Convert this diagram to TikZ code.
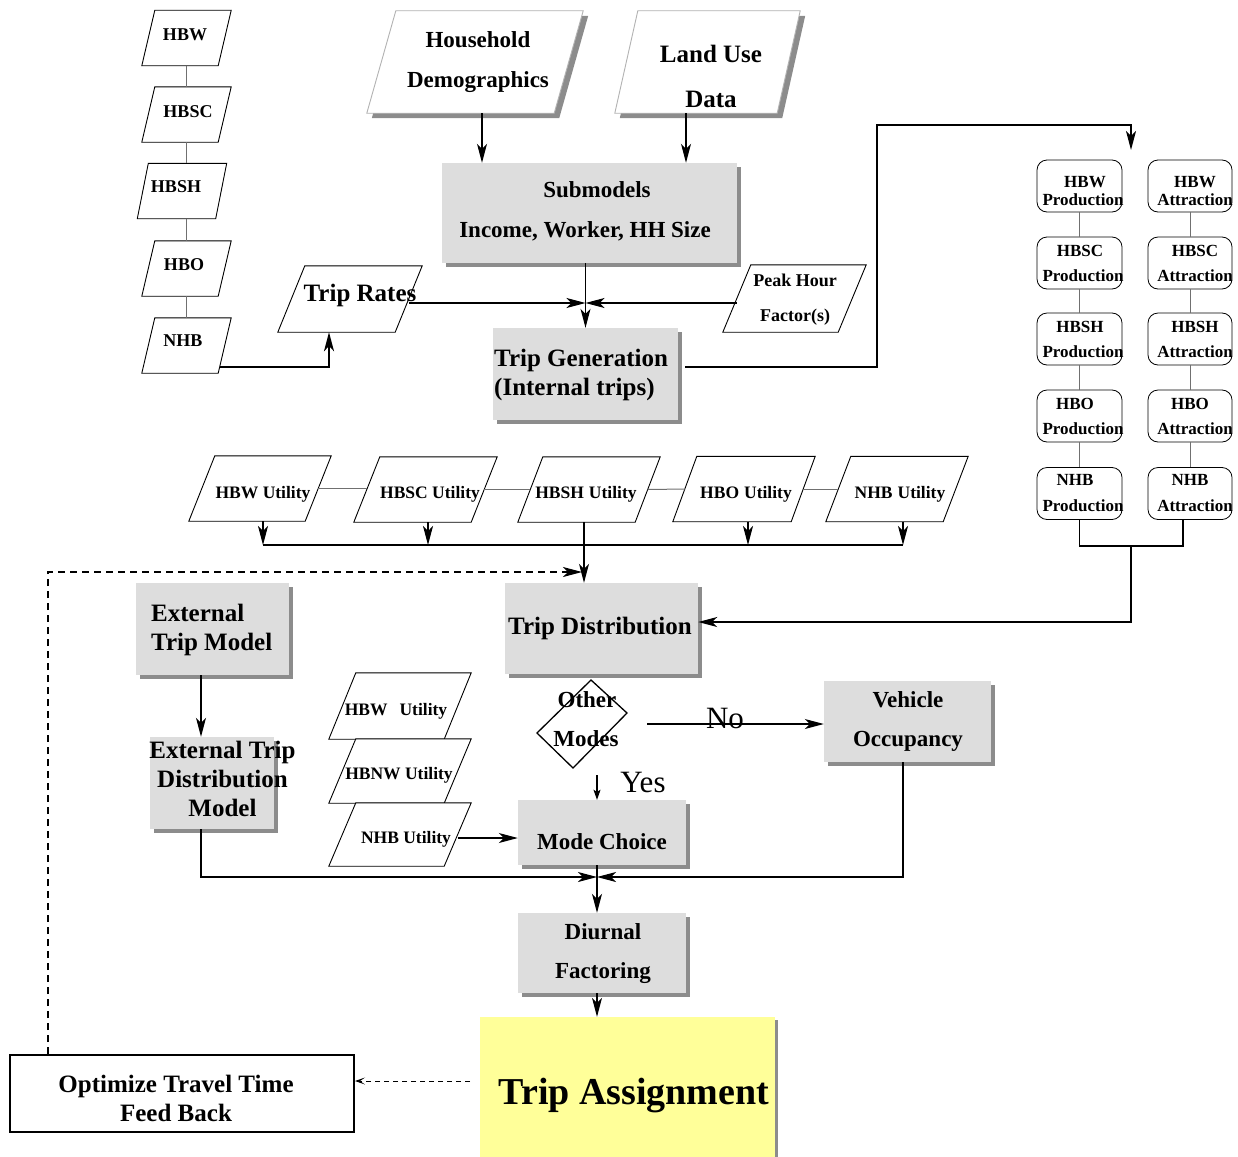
\documentclass[tikz,border=0pt]{standalone}
\usepackage{fontspec}
\setmainfont{Liberation Serif}
\usetikzlibrary{arrows.meta,shapes.geometric,shadows}
\definecolor{boxgray}{HTML}{DDDDDD}
\definecolor{shgray}{HTML}{8C8C8C}
\definecolor{asgyel}{HTML}{FFFF99}
\definecolor{lnkgray}{HTML}{707070}
\newcommand\fs[1]{\fontsize{#1}{#1}\selectfont}
% parallelogram round an empty node: options, node, half slant, dx, dy
\newcommand\pgram[5][draw]{\path[#1] ([xshift={#3+#4},yshift={#5}]#2.north west) -- ([xshift={#3+#4},yshift={#5}]#2.north east) -- ([xshift={#4-#3},yshift={#5}]#2.south east) -- ([xshift={#4-#3},yshift={#5}]#2.south west) -- cycle;}
\begin{document}
\begin{tikzpicture}[x=1pt,y=-1pt,
  tx/.style={font=\bfseries\fs{#1},inner sep=0pt,text height={0.66*#1pt},text depth=0pt},
  txn/.style={font=\fs{#1},inner sep=0pt,text height={0.66*#1pt},text depth=0pt},
  shp/.style={rectangle,inner sep=0pt,draw=none},
  gbox/.style={shp,fill=boxgray,drop shadow={shadow xshift=4pt,shadow yshift=-4pt,fill=shgray,opacity=1}},
  rbox/.style={shp,draw,rounded corners=10pt,line width=0.8pt,minimum width=85pt,minimum height=52pt},
  arr/.style={-{Stealth[length=19pt,width=10pt,inset=5pt]}},
  conn/.style={line width=1.1pt},
  lnk/.style={draw=lnkgray,line width=1pt},
  dsh/.style={line width=1.1pt,dash pattern=on 7pt off 5pt},
  pg/.style={draw,line width=0.9pt,fill=white}
]
\useasboundingbox (0,0) rectangle (1238,1156);

% ---------- gray boxes ----------
\node[gbox,minimum width=295pt,minimum height=100pt] (sub) at (589.5,213) {};
\node[gbox,minimum width=185pt,minimum height=92pt] (gen) at (585.5,374) {};
\node[gbox,minimum width=193pt,minimum height=91pt] (dist) at (601.5,628.5) {};
\node[gbox,minimum width=153pt,minimum height=92pt] (ext) at (212.5,629) {};
\node[gbox,minimum width=124pt,minimum height=92pt] (extd) at (212,783) {};
\node[gbox,minimum width=167pt,minimum height=81pt] (veh) at (907.5,721.5) {};
\node[gbox,minimum width=168pt,minimum height=65pt] (mode) at (602,832.5) {};
\node[gbox,minimum width=168pt,minimum height=80pt] (diurnal) at (602,953) {};
\node[shp,fill=asgyel,drop shadow={shadow xshift=3pt,shadow yshift=-3pt,fill=shgray,opacity=1},minimum width=295pt,minimum height=143pt] (assign) at (627.5,1088.5) {};
\node[shp,draw,fill=white,line width=2pt,minimum width=344pt,minimum height=77pt] (optim) at (182,1093.5) {};

% ---------- parallelogram frames ----------
\node[shp,minimum width=76pt,minimum height=55pt] (pHBW) at (186.5,38) {};
\node[shp,minimum width=76pt,minimum height=55pt] (pHBSC) at (186.5,114.5) {};
\node[shp,minimum width=78pt,minimum height=55pt] (pHBSH) at (182,191) {};
\node[shp,minimum width=76pt,minimum height=55pt] (pHBO) at (186.5,268.5) {};
\node[shp,minimum width=76pt,minimum height=55pt] (pNHB) at (186.5,345.5) {};
\node[shp,minimum width=187pt,minimum height=102pt] (house) at (475,62) {};
\node[shp,minimum width=162pt,minimum height=102pt] (land) at (707.5,62) {};
\node[shp,minimum width=117pt,minimum height=66pt] (rates) at (350,299) {};
\node[shp,minimum width=115pt,minimum height=67pt] (peak) at (794.5,298.5) {};
\node[shp,minimum width=116pt,minimum height=65pt] (uHBW) at (260,488.5) {};
\node[shp,minimum width=117pt,minimum height=65pt] (uHBSC) at (425.5,489.5) {};
\node[shp,minimum width=117pt,minimum height=65pt] (uHBSH) at (589,489.5) {};
\node[shp,minimum width=118pt,minimum height=65pt] (uHBO) at (744,489) {};
\node[shp,minimum width=117pt,minimum height=65pt] (uNHB) at (897,489) {};
\node[shp,minimum width=115pt,minimum height=66pt] (mHBW) at (400,706) {};
\node[shp,minimum width=115pt,minimum height=64pt] (mHBNW) at (400,771) {};
\node[shp,minimum width=115pt,minimum height=63pt] (mNHB) at (400,834.5) {};

\pgram[pg]{pHBW}{6.5pt}{0pt}{0pt}
\pgram[pg]{pHBSC}{6.5pt}{0pt}{0pt}
\pgram[pg]{pHBSH}{5.5pt}{0pt}{0pt}
\pgram[pg]{pHBO}{6.5pt}{0pt}{0pt}
\pgram[pg]{pNHB}{6.5pt}{0pt}{0pt}
\pgram[fill=shgray]{house}{14.5pt}{5pt}{-5pt}
\pgram[draw=gray!60,fill=white,line width=0.9pt]{house}{14.5pt}{0pt}{0pt}
\pgram[fill=shgray]{land}{11.5pt}{5pt}{-5pt}
\pgram[draw=gray!60,fill=white,line width=0.9pt]{land}{11.5pt}{0pt}{0pt}
\pgram[pg]{rates}{13.5pt}{0pt}{0pt}
\pgram[pg]{peak}{14pt}{0pt}{0pt}
\pgram[pg]{uHBW}{13pt}{0pt}{0pt}
\pgram[pg]{uHBSC}{13pt}{0pt}{0pt}
\pgram[pg]{uHBSH}{12.5pt}{0pt}{0pt}
\pgram[pg]{uHBO}{12pt}{0pt}{0pt}
\pgram[pg]{uNHB}{12.5pt}{0pt}{0pt}
\pgram[pg]{mHBW}{13.5pt}{0pt}{0pt}
\pgram[pg]{mHBNW}{13.5pt}{0pt}{0pt}
\pgram[pg]{mNHB}{13.5pt}{0pt}{0pt}

% ---------- rounded P/A boxes ----------
\foreach \i/\y in {1/186,2/263,3/339,4/416,5/493.5}{
  \node[rbox] (pr\i) at (1079.5,\y) {};
  \node[rbox,minimum width=84pt] (at\i) at (1190,\y) {};
}

% ---------- decision (skewed diamond) ----------
\node[shp,minimum width=90pt,minimum height=88pt] (modes) at (583,724) {};
\draw[line width=1.3pt,line join=miter] ([shift={(8,-44)}]modes.center) -- ([shift={(44,-11)}]modes.center) -- ([shift={(-10,44)}]modes.center) -- ([shift={(-46,9)}]modes.center) -- cycle;

% ---------- texts ----------
\node[tx=18] (tHBW) at (185,35) {HBW};
\node[tx=18] (tHBSC) at (188,112) {HBSC};
\node[tx=18] (tHBSH) at (176,187) {HBSH};
\node[tx=18] (tHBO) at (184,265) {HBO};
\node[tx=18] (tNHB) at (183,341) {NHB};
\node[tx=23] (tHouse1) at (478,40) {Household};
\node[tx=23] (tHouse2) at (478,80) {Demographics};
\node[tx=25] (tLand1) at (711,54) {Land Use};
\node[tx=25] (tLand2) at (711,99) {Data};
\node[tx=23] (tSub1) at (597,190) {Submodels};
\node[tx=23] (tSub2) at (585,230) {Income, Worker, HH Size};
\node[tx=25] (tRates) at (360,293) {Trip Rates};
\node[tx=18] (tPeak1) at (795,281) {Peak Hour};
\node[tx=18] (tPeak2) at (795,316) {Factor(s)};
\node[tx=25,anchor=west] (tGen1) at (494,358) {Trip Generation};
\node[tx=25,anchor=west] (tGen2) at (494,387) {(Internal trips)};
\foreach \n/\xa/\xb/\ya/\yb in {HBW/1085/1195/182/200,HBSC/1080/1195/251/276,HBSH/1080/1195/327/352,HBO/1075/1190/404/429,NHB/1075/1190/480/506}{
  \node[tx=17] (tp\n) at (\xa,\ya) {\n};
  \node[tx=17] (tpp\n) at (1083,\yb) {Production};
  \node[tx=17] (ta\n) at (\xb,\ya) {\n};
  \node[tx=17] (taa\n) at (1195,\yb) {Attraction};
}
\node[tx=17.5] (tuHBW) at (263,493) {HBW Utility};
\node[tx=17.5] (tuHBSC) at (430,493) {HBSC Utility};
\node[tx=17.5] (tuHBSH) at (586,493) {HBSH\hspace{5pt}Utility};
\node[tx=17.5] (tuHBO) at (746,493) {HBO\hspace{5pt}Utility};
\node[tx=17.5] (tuNHB) at (900,493) {NHB\hspace{5pt}Utility};
\node[tx=25,anchor=west] (tExt1) at (151,613) {External};
\node[tx=25,anchor=west] (tExt2) at (151,642) {Trip Model};
\node[tx=25] (tExtd1) at (222.5,750) {External Trip};
\node[tx=25] (tExtd2) at (222.5,779) {Distribution};
\node[tx=25] (tExtd3) at (222.5,808) {Model};
\node[tx=25] (tDist) at (600,626) {Trip Distribution};
\node[tx=17.5] (tmHBW) at (396,710) {HBW\hspace{12pt}Utility};
\node[tx=17.5] (tmHBNW) at (399,774) {HBNW Utility};
\node[tx=17.5] (tmNHB) at (406,838) {NHB Utility};
\node[tx=23] (tOther) at (587,700) {Other};
\node[tx=23] (tModes) at (586,739) {Modes};
\node[txn=31] (tNo) at (725,718) {No};
\node[txn=31] (tYes) at (643,782) {Yes};
\node[tx=23] (tVeh1) at (908,700) {Vehicle};
\node[tx=23] (tVeh2) at (908,739) {Occupancy};
\node[tx=23] (tMode) at (602,842) {Mode Choice};
\node[tx=23] (tDiur1) at (603,932) {Diurnal};
\node[tx=23] (tDiur2) at (603,971) {Factoring};
\node[tx=38] (tAssign) at (634,1092) {Trip Assignment};
\node[tx=25] (tOpt1) at (176,1084) {Optimize Travel Time};
\node[tx=25] (tOpt2) at (176,1113) {Feed Back};

% ---------- links ----------
\draw[lnk] (pHBW.south) -- (pHBSC.north);
\draw[lnk] (pHBSC.south) -- (pHBSC.south |- pHBSH.north);
\draw[lnk] (pHBSC.south |- pHBSH.south) -- (pHBO.north);
\draw[lnk] (pHBO.south) -- (pNHB.north);
\foreach \i/\j in {1/2,2/3,3/4,4/5}{
  \draw[lnk] (pr\i.south) -- (pr\j.north);
  \draw[lnk] (at\i.south) -- (at\j.north);
}
\draw[lnk] (uHBW.east) -- (uHBW.east -| uHBSC.west);
\draw[lnk] (uHBSC.east) -- (uHBSH.west);
\draw[lnk] (uHBSH.east) -- (uHBO.west);
\draw[lnk] (uHBO.east) -- (uNHB.west);

% ---------- connectors ----------
\coordinate (pa) at (1131,150);
\coordinate (jn) at (1131,546);
\coordinate (bar) at (584,545);
\coordinate (dtip) at (582,572);
\coordinate (noS) at (647,724);
\coordinate (yesS) at (597,775);
\coordinate (mc) at (597,877);
\coordinate (fbS) at (470,1081);

\draw[conn,arr] ([xshift=7pt]house.south) -- ([xshift=7pt]house.south |- sub.north);
\draw[conn,arr] ([xshift=-21.5pt]land.south) -- ([xshift=-21.5pt]land.south |- sub.north);
\draw[conn,arr] (sub.south -| gen.north) -- (gen.north);
\draw[conn,arr] ([yshift=-4pt]rates.east) -- ([yshift=-4pt]rates.east -| gen.north);
\draw[conn,arr] ([yshift=-4.5pt]peak.west) -- ([yshift=-4.5pt]peak.west -| gen.north);
\draw[line width=1.6pt,arr] ([xshift=-5pt,yshift=6pt]pNHB.south east) -| ([xshift=-21pt]rates.south);
\draw[line width=1.6pt,arr] ([xshift=7pt,yshift=7pt]gen.east) -| (877,125) -| (pa);
\draw[conn] (pr5.south) |- (jn);
\draw[conn] ([xshift=-7pt]at5.south) |- (jn);
\draw[conn,arr] (jn) |- ([yshift=6.5pt]dist.east);
\draw[conn,arr] ([xshift=3pt]uHBW.south) -- ([xshift=3pt]uHBW.south |- bar);
\draw[conn,arr] ([xshift=2.5pt]uHBSC.south) -- ([xshift=2.5pt]uHBSC.south |- bar);
\draw[conn,arr] ([xshift=4pt]uHBO.south) -- ([xshift=4pt]uHBO.south |- bar);
\draw[conn,arr] ([xshift=6pt]uNHB.south) -- ([xshift=6pt]uNHB.south |- bar);
\draw[conn] ([xshift=3pt]uHBW.south |- bar) -- ([xshift=6pt]uNHB.south |- bar);
\draw[conn,arr] ([xshift=-5pt]uHBSH.south) -- ([xshift=-5pt]uHBSH.south |- dist.north);
\draw[dsh,arr] ([xshift=-134pt]optim.north) |- (dtip);
\draw[conn,arr] ([xshift=-11.5pt]ext.south) -- ([xshift=-11.5pt]ext.south |- extd.north);
\draw[conn,arr] ([yshift=-3.5pt]mNHB.east) -- ([yshift=-3.5pt]mNHB.east -| mode.west);
\draw[conn,arr] (noS) -- (noS -| veh.west);
\draw[conn,-{Stealth[length=10pt,width=7pt,inset=2pt]}] (yesS) -- (yesS |- mode.north);
\draw[conn,arr] ([xshift=-11pt]extd.south) |- (mc);
\draw[conn,arr] ([xshift=-4.5pt]veh.south) |- (mc);
\draw[conn,arr] ([xshift=-5pt]mode.south) -- ([xshift=-5pt]diurnal.north);
\draw[conn,arr] ([xshift=-5pt]diurnal.south) -- ([xshift=-5pt]diurnal.south |- assign.north);
\draw[line width=1pt,dash pattern=on 5pt off 4pt,-{Stealth[length=10pt,width=7pt,inset=5pt]}] (fbS) -- (fbS -| optim.east);
\end{tikzpicture}
\end{document}
